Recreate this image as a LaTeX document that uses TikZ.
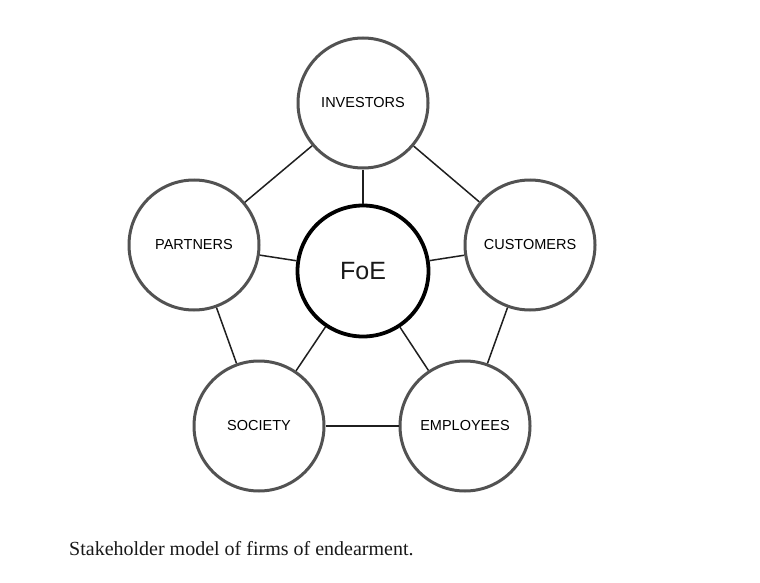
\documentclass[tikz,border=0pt]{standalone}
\usepackage{fontspec}
\setmainfont{Liberation Serif}
\newfontfamily\arialfont{Liberation Sans}
\begin{document}
\begin{tikzpicture}[x=1pt,y=-1pt,
  stake/.style={circle,draw=black!68,line width=3pt,minimum size=130pt,inner sep=0pt,font=\arialfont\fontsize{14.5}{16}\selectfont,text=black},
  core/.style={circle,draw=black,line width=3.8pt,minimum size=131pt,inner sep=0pt,font=\arialfont\fontsize{25}{28}\selectfont,text=black!90},
  link/.style={draw=black!88,line width=1.5pt}]
\useasboundingbox (0,0) rectangle (760,583);
\fill[white] (0,0) rectangle (760,583);
\node[stake] (inv) at (363,103) {INVESTORS};
\node[stake] (par) at (194,245) {PARTNERS};
\node[stake] (cus) at (530,245) {CUSTOMERS};
\node[stake] (soc) at (259,426) {SOCIETY};
\node[stake] (emp) at (465,426) {EMPLOYEES};
\node[core] (foe) at (363,271) {FoE};
\draw[link] (inv) -- (par);
\draw[link] (inv) -- (cus);
\draw[link] (cus) -- (emp);
\draw[link] (emp) -- (soc);
\draw[link] (soc) -- (par);
\foreach \n in {inv,par,cus,soc,emp} \draw[link] (foe) -- (\n);
\node[anchor=base west,inner sep=0pt,font=\fontsize{20}{23}\selectfont,text=black!90] (cap) at (69,555) {Stakeholder model of firms of endearment.};
\end{tikzpicture}
\end{document}
